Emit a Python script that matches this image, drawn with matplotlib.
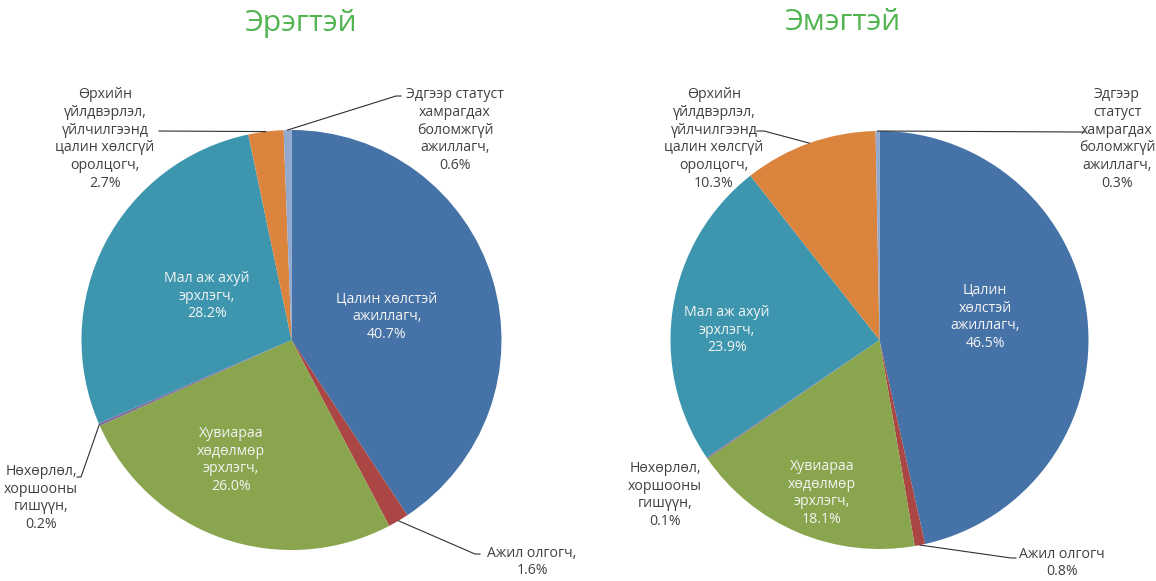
import numpy as np
import matplotlib
matplotlib.use("Agg")
import matplotlib.pyplot as plt

plt.rcParams["font.family"] = ["Open Sans", "DejaVu Sans"]

# data
male = [40.7, 1.6, 26.0, 0.2, 28.2, 2.7, 0.6]
female = [46.5, 0.8, 18.1, 0.1, 23.9, 10.3, 0.3]
titles = ["Эрэгтэй", "Эмэгтэй"]

male_labels = [
    "Цалин хөлстэй\nажиллагч,",
    "Ажил олгогч,",
    "Хувиараа\nхөдөлмөр\nэрхлэгч,",
    "Нөхөрлөл,\nхоршооны\nгишүүн,",
    "Мал аж ахуй\nэрхлэгч,",
    "Өрхийн\nүйлдвэрлэл,\nүйлчилгээнд\nцалин хөлсгүй\nоролцогч,",
    "Эдгээр статуст\nхамрагдах\nболомжгүй\nажиллагч,",
]
female_labels = [
    "Цалин\nхөлстэй\nажиллагч,",
    "Ажил олгогч",
    "Хувиараа\nхөдөлмөр\nэрхлэгч,",
    "Нөхөрлөл,\nхоршооны\nгишүүн,",
    "Мал аж ахуй\nэрхлэгч,",
    "Өрхийн\nүйлдвэрлэл,\nүйлчилгээнд\nцалин хөлсгүй\nоролцогч,",
    "Эдгээр\nстатуст\nхамрагдах\nболомжгүй\nажиллагч,",
]

colors = ["#4572A7", "#AA4643", "#89A54E", "#80699B", "#3D96AE", "#DB843D", "#92A8CD"]

W, H = 1156, 581
fig = plt.figure(figsize=(W / 100, H / 100), dpi=100)

# label placement in pixels: (x, y, inside, leader points from text side)
male_layout = [
    (387, 317, True, None),
    (532, 562, False, [(480, 554), (475, 554)]),
    (231, 460, True, None),
    (41, 498, False, [(77, 477), (81, 477)]),
    (207, 296, True, None),
    (105, 139, False, [(159, 131)]),
    (455, 130, False, [(401, 96), (396, 96)]),
]
female_layout = [
    (985, 317, True, None),
    (1062, 563, False, [(1016, 558), (1011, 558)]),
    (822, 493, True, None),
    (665, 495, False, None),
    (727, 330, True, None),
    (714, 139, False, [(757, 131), (764, 131)]),
    (1117, 139, False, [(1085, 132), (1080, 132)]),
]

charts = [
    (male, male_labels, male_layout, 291.5, 340, 210, 300),
    (female, female_labels, female_layout, 879.5, 340, 209, 842),
]

for i, (vals, labels, layout, cx, cy, R, tx) in enumerate(charts):
    ax = fig.add_axes([(cx - R) / W, (H - cy - R) / H, 2 * R / W, 2 * R / H])
    wedges, _ = ax.pie(vals, colors=colors, startangle=90, counterclock=False,
                       radius=1, wedgeprops=dict(linewidth=0))
    ax.set_xlim(-1, 1)
    ax.set_ylim(-1, 1)
    ax.set_aspect("auto")
    ax.axis("off")

    def to_data(p):
        return (p[0] - cx) / R, (cy - p[1]) / R

    for w, v, lab, (px, py, inside, leader) in zip(wedges, vals, labels, layout):
        x, y = to_data((px, py))
        ax.text(x, y, f"{lab}\n{v:.1f}%", ha="center", va="center",
                multialignment="center", fontsize=10.2, linespacing=1.25,
                color="#f4f4f4" if inside else "#404040", clip_on=False)
        if leader:
            mid = np.deg2rad((w.theta1 + w.theta2) / 2)
            pts = [to_data(p) for p in leader] + [(np.cos(mid), np.sin(mid))]
            xs, ys = zip(*pts)
            ax.plot(xs, ys, color="#303030", lw=0.8, clip_on=False)

    fig.text(tx / W, 1 - 23 / H, titles[i], ha="center", va="center",
             fontsize=21.5, color="#52b552")

fig.savefig("out.png", dpi=100)
